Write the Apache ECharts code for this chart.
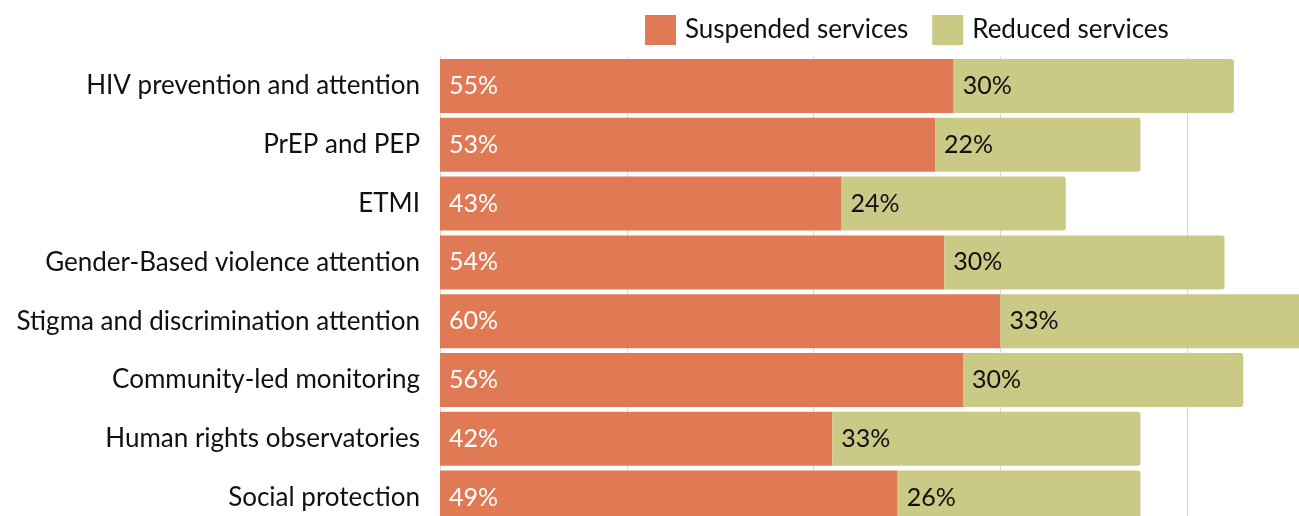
<!DOCTYPE html>
<html>
<head>
<meta charset="utf-8">
<title>Services</title>
<script src="https://cdn.jsdelivr.net/npm/echarts@6/dist/echarts.min.js"></script>
<style>
  html, body { margin: 0; padding: 0; background: #fff; overflow: hidden; }
  /* the original plot runs past the picture's right and bottom edges */
  #chart { width: 1374px; height: 527px; }
</style>
</head>
<body>
<div id="chart"></div>
<script>
// categories, top to bottom
const categories = [
  'HIV prevention and attention',
  'PrEP and PEP',
  'ETMI',
  'Gender-Based violence attention',
  'Stigma and discrimination attention',
  'Community-led monitoring',
  'Human rights observatories',
  'Social protection'
]
const suspended = [55, 53, 43, 54, 60, 56, 42, 49]
const reduced = [30, 22, 24, 30, 33, 30, 33, 26]

const FONT = 'Lato, "Open Sans", sans-serif'

const chart = echarts.init(document.getElementById('chart'), null, { renderer: 'canvas' })

chart.setOption({
  backgroundColor: '#fff',
  animation: false,
  legend: {
    left: 640,
    top: 10,
    itemWidth: 31,
    itemHeight: 30,
    itemGap: 24,
    icon: 'rect',
    textStyle: { fontFamily: FONT, fontSize: 26, color: '#111', padding: [0, 0, 0, 4] },
    data: ['Suspended services', 'Reduced services']
  },
  grid: {
    left: 440,
    right: 0,
    top: 56.6,
    bottom: 0
  },
  xAxis: {
    type: 'value',
    min: 0,
    max: 100,
    interval: 20,
    axisLine: { show: false },
    axisTick: { show: false },
    axisLabel: { show: false },
    splitLine: { show: true, lineStyle: { color: '#d6d6d6', width: 1 } }
  },
  yAxis: {
    type: 'category',
    inverse: true,
    data: categories,
    axisLine: { show: false },
    axisTick: { show: false },
    axisLabel: {
      margin: 20,
      fontFamily: FONT,
      fontSize: 26,
      color: '#111'
    }
  },
  series: [
    {
      name: 'Suspended services',
      type: 'bar',
      stack: 'total',
      barWidth: 54,
      data: suspended,
      itemStyle: { color: '#E07A55' },
      label: {
        show: true,
        position: 'insideLeft',
        distance: 9,
        formatter: '{c}%',
        fontFamily: FONT,
        fontSize: 25,
        color: '#fff'
      }
    },
    {
      name: 'Reduced services',
      type: 'bar',
      stack: 'total',
      barWidth: 54,
      data: reduced,
      itemStyle: { color: '#CAC986', borderRadius: [0, 3, 3, 0] },
      label: {
        show: true,
        position: 'insideLeft',
        distance: 9,
        formatter: '{c}%',
        fontFamily: FONT,
        fontSize: 25,
        color: '#111'
      }
    }
  ]
})
</script>
</body>
</html>
